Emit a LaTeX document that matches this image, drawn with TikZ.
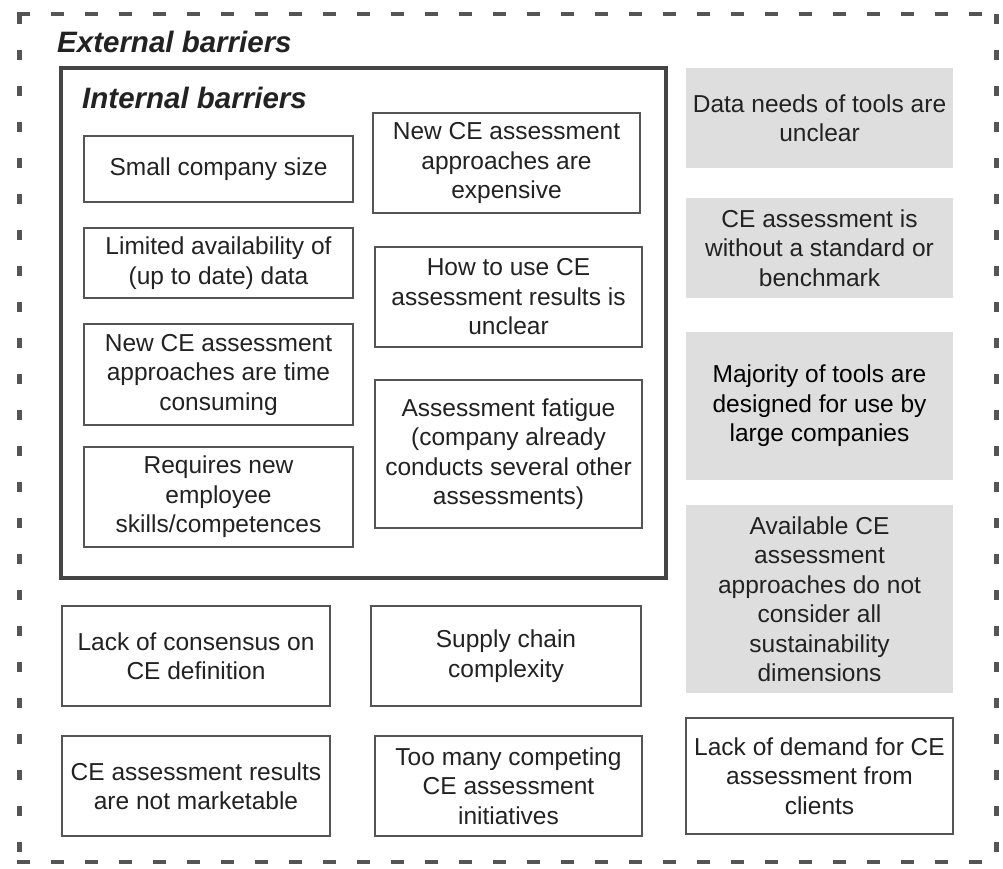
\documentclass[tikz,border=0pt]{standalone}
\usepackage{fontspec}
\setmainfont{Liberation Sans}
\definecolor{txt}{HTML}{222222}
\definecolor{edge}{HTML}{555555}
\definecolor{frame}{HTML}{444444}
\definecolor{shade}{HTML}{DEDEDE}
\begin{document}
\begin{tikzpicture}[x=1pt,y=-1pt,
  barrier/.style={draw=edge, line width=1.3pt, align=center, inner sep=0pt, text=txt,
    font=\fontsize{24.5pt}{29.5pt}\selectfont},
  greybar/.style={fill=shade, align=center, inner sep=0pt, text=txt,
    font=\fontsize{24.5pt}{29.5pt}\selectfont},
  title/.style={anchor=base west, inner sep=0pt, text=txt,
    font=\fontsize{29.5pt}{34pt}\selectfont\bfseries\itshape},
  wh/.style 2 args={minimum width=#1pt, minimum height=#2pt}]
\useasboundingbox (0,0) rectangle (1003,868);
\fill[white] (0,0) rectangle (1003,868);
% outer dashed frame
\draw[edge, line width=4pt, dash pattern=on 13pt off 21pt] (17,14) -- (998,14);
\draw[edge, line width=4pt, dash pattern=on 13pt off 21pt] (17,862) -- (998,862);
\draw[edge, line width=5pt, dash pattern=on 10pt off 26pt] (19,14) -- (19,862);
\draw[edge, line width=5pt, dash pattern=on 10pt off 26pt] (996,14) -- (996,862);
\node[title] (ext) at (57,52) {External barriers};
% inner frame
\draw[frame, line width=4pt] (61,68) rectangle (666,578);
\node[title] (int) at (82,108) {Internal barriers};
% internal barriers
\node[barrier, wh={269}{66}] (a1) at (218.5,169) {Small company size};
\node[barrier, wh={269}{70}] (a2) at (218.5,263) {Limited availability of\\(up to date) data};
\node[barrier, wh={269}{101}] (a3) at (218.5,374.5) {New CE assessment\\approaches are time\\consuming};
\node[barrier, wh={269}{100}] (a4) at (218.5,497) {Requires new\\employee\\skills/competences};
\node[barrier, wh={267}{100}] (b1) at (506.5,163) {New CE assessment\\approaches are\\expensive};
\node[barrier, wh={267}{100}] (b2) at (508.5,297) {How to use CE\\assessment results is\\unclear};
\node[barrier, wh={267}{148}] (b3) at (508.5,454) {Assessment fatigue\\(company already\\conducts several other\\assessments)};
% external barriers
\node[barrier, wh={268}{100}] (c1) at (196,656) {Lack of consensus on\\CE definition};
\node[barrier, wh={270}{100}] (c2) at (506,656) {Supply chain\\complexity};
\node[barrier, wh={268}{100}] (c3) at (196,786) {CE assessment results\\are not marketable};
\node[barrier, wh={267}{100}] (c4) at (508.5,786) {Too many competing\\CE assessment\\initiatives};
\node[greybar, wh={267}{100}] (d1) at (819.5,118) {Data needs of tools are\\unclear};
\node[greybar, wh={267}{100}] (d2) at (819.5,248) {CE assessment is\\without a standard or\\benchmark};
\node[greybar, wh={267}{148}, text=black] (d3) at (819.5,406) {Majority of tools are\\designed for use by\\large companies};
\node[greybar, wh={267}{188}] (d4) at (819.5,599) {Available CE\\assessment\\approaches do not\\consider all\\sustainability\\dimensions};
\node[barrier, wh={267}{116}] (d5) at (819.5,776) {Lack of demand for CE\\assessment from\\clients};
\end{tikzpicture}
\end{document}
